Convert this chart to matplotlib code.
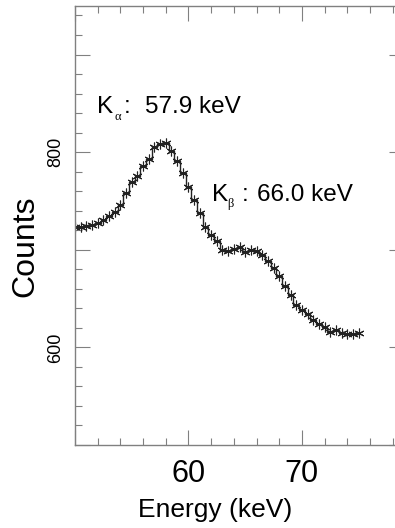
import matplotlib
matplotlib.use("Agg")
import matplotlib.pyplot as plt
from matplotlib.ticker import MultipleLocator, FuncFormatter

plt.rcParams['font.family'] = ['Liberation Sans', 'DejaVu Sans']

# Spectrum: bin centres (keV) and counts per bin
energy = [50.0, 50.5, 51.0, 51.5, 52.0, 52.5, 53.0, 53.5, 54.0, 54.5,
          55.0, 55.5, 56.0, 56.5, 57.0, 57.5, 58.0, 58.5, 59.0, 59.5,
          60.0, 60.5, 61.0, 61.5, 62.0, 62.5, 63.0, 63.5, 64.0, 64.5,
          65.0, 65.5, 66.0, 66.5, 67.0, 67.5, 68.0, 68.5, 69.0, 69.5,
          70.0, 70.5, 71.0, 71.5, 72.0, 72.5, 73.0, 73.5, 74.0, 74.5,
          75.0]
counts = [723, 723, 724, 725, 727, 730, 735, 739, 746, 758,
          769, 776, 786, 793, 805, 808, 809, 801, 791, 779,
          764, 751, 738, 723, 715, 709, 700, 699, 701, 703,
          698, 700, 699, 695, 688, 681, 673, 663, 654, 643,
          638, 634, 628, 624, 621, 616, 618, 615, 614, 614,
          615]

ka_energy = 57.9
kb_energy = 66.0

W, H = 395, 528
fig = plt.figure(figsize=(W / 100, H / 100), dpi=100)
ax = fig.add_axes([75 / W, (H - 445) / H, (404 - 75) / W, (445 - 5.7) / H])

ax.plot(energy, counts, drawstyle='steps-mid', color='#222222', lw=1.0)
ax.plot(energy, counts, linestyle='none', marker=(6, 2, 0), ms=7,
        mew=0.8, color='#222222')

ax.set_xlim(50, 79)
ax.set_ylim(500, 950)

spine_col = '#808080'
for s in ax.spines.values():
    s.set_color(spine_col)
    s.set_linewidth(1.0)
ax.spines['right'].set_visible(False)

ax.xaxis.set_major_locator(MultipleLocator(10))
ax.xaxis.set_minor_locator(MultipleLocator(2))
ax.yaxis.set_major_locator(MultipleLocator(100))
ax.yaxis.set_minor_locator(MultipleLocator(20))

ax.xaxis.set_major_formatter(FuncFormatter(lambda v, p: '' if v < 55 else f'{v:.0f}'))
ax.yaxis.set_major_formatter(FuncFormatter(lambda v, p: f'{v:.0f}' if round(v) % 200 == 0 and 550 < v < 900 else ''))

ax.tick_params(which='both', direction='in', top=True, right=True,
               color=spine_col, width=0.8)
ax.tick_params(which='major', length=10.5)
ax.tick_params(which='minor', length=5)
ax.tick_params(axis='x', which='major', labelsize=22, pad=10)
ax.tick_params(axis='y', which='major', labelsize=13, pad=8)
for lab in ax.get_yticklabels():
    lab.set_rotation(90)
    lab.set_va('center')

fig.text(215.5 / W, 1 - 510 / H, 'Energy (keV)', fontsize=19,
         ha='center', va='center')
fig.text(25 / W, 1 - 246.7 / H, 'Counts', fontsize=23, rotation=90,
         ha='center', va='center')

# Peak labels: K with a serif Greek subscript
def peak_label(x_k, y_base, x_sub, y_sub, sym, x_colon, x_val, value):
    ax.text(x_k, y_base, 'K', fontsize=17.5, va='baseline', ha='left')
    ax.text(x_sub, y_sub, sym, fontsize=9, family=['Liberation Serif', 'DejaVu Serif'],
            va='baseline', ha='left')
    ax.text(x_colon, y_base, ':', fontsize=17.5, va='baseline', ha='left')
    ax.text(x_val, y_base, f'{value:.1f} keV', fontsize=17.5,
            va='baseline', ha='left')

peak_label(51.94, 840.4, 53.45, 833.0, 'α', 54.30, 56.18, ka_energy)
peak_label(62.09, 749.7, 63.45, 743.5, 'β', 64.70, 66.04, kb_energy)

fig.savefig('out.png', dpi=100)
